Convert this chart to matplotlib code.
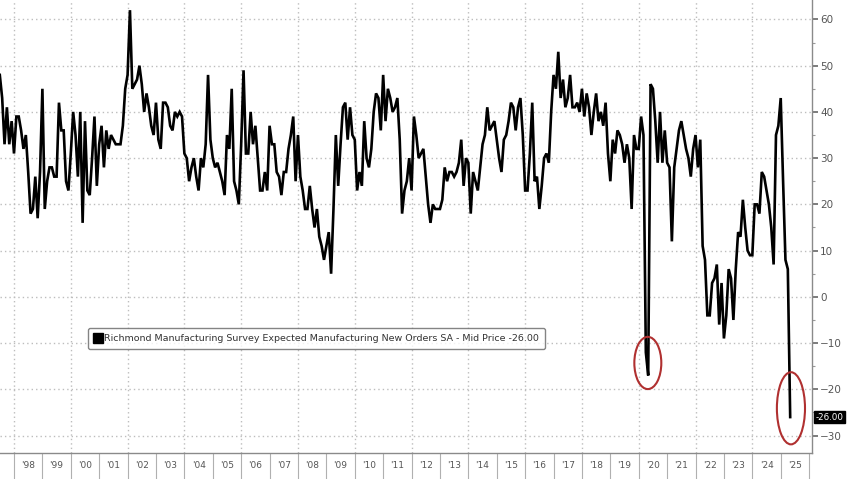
import numpy as np
import matplotlib
matplotlib.use("Agg")
import matplotlib.pyplot as plt
from matplotlib.patches import Ellipse
from matplotlib.lines import Line2D
from matplotlib.ticker import FixedLocator, MultipleLocator, NullFormatter

# monthly readings, first value plotted at mid-1997
start_year = 1997.5
v1997 = [48, 43, 33, 41, 33, 38]
v1998 = [31, 39, 39, 36, 32, 35, 27, 18, 19, 26, 17, 27]
v1999 = [45, 19, 25, 28, 28, 26, 26, 42, 36, 36, 25, 23]
v2000 = [31, 40, 35, 26, 40, 16, 38, 23, 22, 30, 39, 24]
v2001 = [33, 37, 28, 36, 32, 35, 34, 33, 33, 33, 37, 45]
v2002 = [48, 62, 45, 46, 47, 50, 46, 40, 44, 41, 37, 35]
v2003 = [42, 34, 32, 42, 42, 41, 37, 36, 40, 39, 40, 39]
v2004 = [31, 30, 25, 28, 30, 26, 23, 30, 28, 33, 48, 34]
v2005 = [30, 28, 29, 27, 25, 22, 35, 32, 45, 25, 23, 20]
v2006 = [33, 49, 31, 31, 40, 33, 37, 30, 23, 23, 27, 23]
v2007 = [37, 33, 33, 27, 26, 22, 27, 27, 32, 35, 39, 25]
v2008 = [35, 26, 23, 19, 19, 24, 19, 15, 19, 13, 11, 8]
v2009 = [11, 14, 5, 19, 35, 24, 33, 41, 42, 34, 41, 35]
v2010 = [34, 23, 27, 24, 38, 30, 28, 32, 40, 44, 43, 36]
v2011 = [48, 38, 45, 43, 40, 41, 43, 34, 18, 23, 25, 30]
v2012 = [23, 39, 35, 30, 31, 32, 26, 20, 16, 20, 19, 19]
v2013 = [19, 21, 28, 25, 27, 27, 26, 27, 29, 34, 24, 30]
v2014 = [29, 18, 27, 25, 23, 28, 33, 35, 41, 36, 37, 38]
v2015 = [34, 30, 27, 34, 35, 38, 42, 41, 36, 41, 43, 35]
v2016 = [23, 23, 31, 42, 25, 26, 19, 24, 30, 31, 29, 40]
v2017 = [48, 45, 53, 43, 47, 41, 43, 48, 41, 41, 42, 40]
v2018 = [45, 39, 44, 41, 35, 40, 44, 38, 40, 37, 42, 31]
v2019 = [25, 34, 31, 36, 35, 33, 29, 33, 30, 19, 35, 32]
v2020 = [32, 39, 35, -12, -17, 46, 45, 38, 29, 40, 29, 36]
v2021 = [29, 28, 12, 28, 32, 36, 38, 35, 32, 30, 26, 32]
v2022 = [35, 28, 34, 11, 8, -4, -4, 3, 4, 7, -6, 3]
v2023 = [-9, -4, 6, 4, -5, 6, 14, 13, 21, 15, 10, 9]
v2024 = [9, 20, 20, 18, 27, 26, 23, 20, 15, 7, 35, 37]
v2025 = [43, 25, 8, 6, -26]

years = list(range(1998, 2026))
year_labels = ["'" + str(y)[2:] for y in years]
label = "Richmond Manufacturing Survey Expected Manufacturing New Orders SA - Mid Price -26.00"
last_text = "-26.00"

values = np.array(v1997 + v1998 + v1999 + v2000 + v2001 + v2002 + v2003 + v2004
                  + v2005 + v2006 + v2007 + v2008 + v2009 + v2010 + v2011 + v2012
                  + v2013 + v2014 + v2015 + v2016 + v2017 + v2018 + v2019 + v2020
                  + v2021 + v2022 + v2023 + v2024 + v2025, dtype=float)
x = start_year + np.arange(len(values)) / 12.0

fig = plt.figure(figsize=(8.48, 4.79), dpi=100)
ax = fig.add_axes([0.0, 0.054, 0.9575, 0.946])

ax.plot(x, values, color="black", lw=1.9, solid_joinstyle="miter", zorder=3)

ax.set_xlim(1997.507, 2026.1)
ax.set_ylim(-33.8, 64.2)

# grid
for yv in range(-30, 70, 10):
    ax.axhline(yv, color="#bdbdbd", lw=1.0, ls=(0, (1, 2.2)), zorder=1)
for yr in range(1998, 2026, 2):
    ax.axvline(yr, color="#bdbdbd", lw=1.0, ls=(0, (1, 2.2)), zorder=1)

# spines
for s in ["top", "left"]:
    ax.spines[s].set_visible(False)
for s in ["right", "bottom"]:
    ax.spines[s].set_color("#8a8a8a")
    ax.spines[s].set_linewidth(1.0)

# y axis on the right
ax.yaxis.tick_right()
ax.yaxis.set_major_locator(MultipleLocator(10))
ax.yaxis.set_minor_locator(MultipleLocator(5))
ax.tick_params(axis="y", which="major", direction="out", length=4, width=1.2,
               color="#666666", labelsize=7.5, labelcolor="#555555", pad=2)
ax.tick_params(axis="y", which="minor", direction="out", length=2, width=0.8,
               color="#999999")

# x axis: separators at year boundaries, labels centred in each year
ax.xaxis.set_major_locator(FixedLocator(years + [2026]))
ax.xaxis.set_major_formatter(NullFormatter())
ax.xaxis.set_minor_locator(FixedLocator([y + 0.5 for y in years]))
ax.set_xticklabels(year_labels, minor=True)
ax.tick_params(axis="x", which="major", direction="out", length=19, width=0.8,
               color="#b0b0b0")
ax.tick_params(axis="x", which="minor", length=0, labelsize=6.5,
               labelcolor="#555555", pad=6)

# last value tag
ax.annotate(last_text, xy=(1.0, values[-1]), xycoords=("axes fraction", "data"),
            xytext=(2.5, 0), textcoords="offset points", va="center", ha="left",
            fontsize=6.3, color="white", annotation_clip=False,
            bbox=dict(boxstyle="square,pad=0.22", fc="black", ec="black"))

# red circles
ax.add_patch(Ellipse((2020.32, -14.3), 0.95, 11.3, fill=False, ec="#b03030",
                     lw=1.5, zorder=4))
ax.add_patch(Ellipse((2025.36, -24.1), 0.99, 15.6, fill=False, ec="#b03030",
                     lw=1.5, zorder=4))

handle = Line2D([], [], color="black", marker="s", ls="none", markersize=6.5)
leg = ax.legend([handle], [label], loc="upper left", bbox_to_anchor=(0.108, 0.276),
                fontsize=6.8, frameon=True, fancybox=True, handlelength=0.8,
                handletextpad=0.3, borderpad=0.65, borderaxespad=0)
leg.get_frame().set_edgecolor("#666666")
leg.get_frame().set_linewidth(1.0)
for t in leg.get_texts():
    t.set_color("#333333")

fig.savefig("out.png", dpi=100)
